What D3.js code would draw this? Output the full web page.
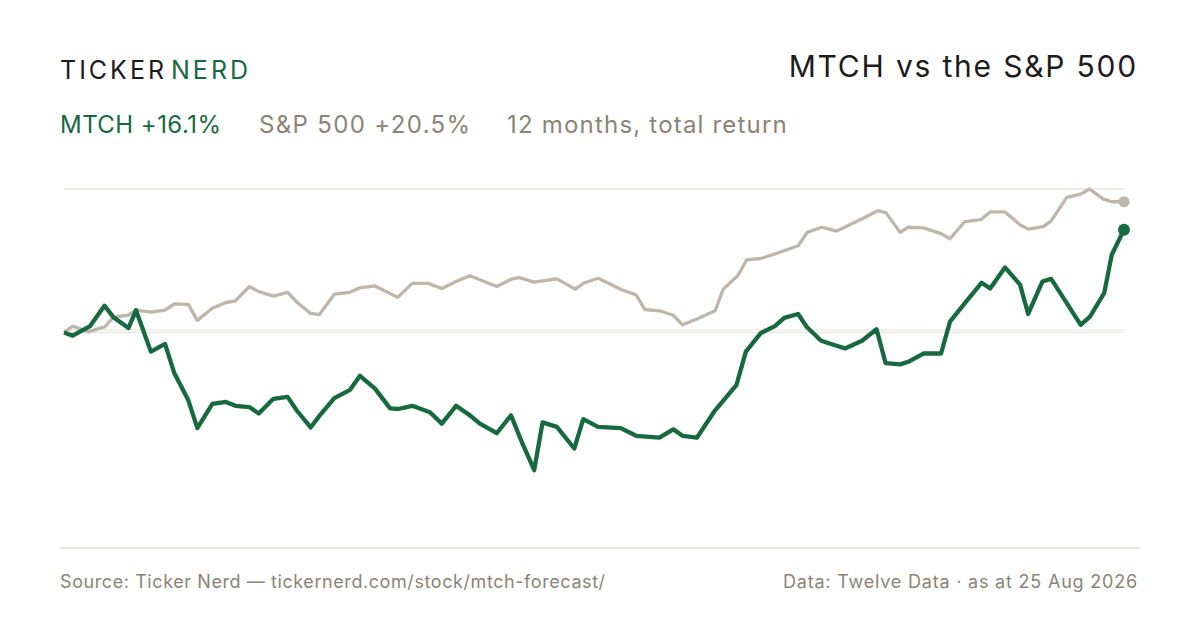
<!DOCTYPE html>
<html>
<head>
<meta charset="utf-8">
<script src="https://cdn.jsdelivr.net/npm/d3@7"></script>
<style>
  body { margin: 0; background: #fff; }
  svg text { font-family: Inter, "Noto Sans", sans-serif; }
</style>
</head>
<body>
<div id="chart"></div>
<script>
// 12 months of total return, % change from 25 Aug 2025
var startDate = new Date(2025, 7, 25)

// day offsets and returns
var mtchDays = [0, 3, 9, 13.9, 17, 22.2, 24.8, 29.9, 34.8, 38, 42.8, 45.9, 51.1, 55.7, 59.1, 63.8, 67.1, 72.1, 77, 80.1, 84.9, 88.1, 93.1, 98.5, 101.9, 107.1, 112.3, 115.1, 119.9, 126, 130.1, 135, 139.8, 143.2, 149, 153.9, 157.6, 161.9, 164.8, 169.7, 175.7, 178.8, 183.9, 191.7, 197, 205, 209.8, 213, 217.9, 224.2, 231.6, 234.8, 239.9, 244.8, 248, 252.8, 255.7, 260.7, 265.5, 268.9, 274.8, 279.8, 282.9, 287.9, 290.7, 295.9, 302, 305.1, 310.2, 316, 318.9, 324, 329.2, 332, 336.9, 339.9, 345.3, 350.1, 353.3, 358.2, 360.8, 365]
var mtchValues = [0, -0.5, 1.0, 4.2, 2.4, 0.7, 3.5, -3.0, -1.8, -6.4, -10.6, -15.0, -11.2, -10.9, -11.5, -11.7, -12.7, -10.4, -10.1, -12.2, -14.9, -13.0, -10.3, -9.0, -6.8, -8.8, -11.9, -12.0, -11.5, -12.5, -14.3, -11.5, -13.0, -14.3, -15.8, -13.0, -17.1, -21.6, -14.1, -14.8, -18.2, -13.6, -14.8, -15.0, -16.2, -16.5, -15.2, -16.2, -16.5, -12.2, -8.2, -3.0, -0.1, 1.0, 2.3, 2.9, 0.9, -1.3, -2.0, -2.5, -1.3, 0.5, -4.8, -5.0, -4.6, -3.3, -3.3, 1.7, 4.6, 7.8, 6.9, 10.2, 7.5, 2.9, 8.0, 8.4, 4.6, 1.2, 2.5, 6.2, 12.2, 16.1]

var spxDays = [0, 3, 8.4, 14.1, 17, 22.1, 24.8, 29.9, 34.8, 38, 42.8, 45.9, 51.1, 55.7, 58.9, 63.8, 67.1, 72.1, 77, 80.3, 84.9, 87.9, 93.1, 98.5, 101.9, 107.1, 114.9, 119.9, 125.4, 130.1, 135, 139.8, 149, 154.2, 156.8, 161.9, 169.7, 176, 179.2, 184, 192, 197, 200.1, 205, 209.8, 213, 217.9, 224.2, 227, 232, 235.1, 239.9, 244.8, 252.8, 255.9, 260.9, 266.1, 275.2, 280.2, 283, 287.9, 290.7, 295.9, 302, 305.1, 310.2, 315.8, 318.9, 324, 329.2, 332, 337.2, 339.9, 345.3, 350.1, 353.1, 357.9, 360.8, 365]
var spxValues = [0, 1.0, 0.1, 0.9, 2.4, 2.7, 3.5, 3.2, 3.5, 4.5, 4.4, 1.9, 3.8, 4.7, 4.9, 7.2, 6.4, 5.7, 6.3, 4.7, 3.0, 2.8, 6.0, 6.3, 7.0, 7.3, 5.5, 7.7, 7.7, 6.9, 8.0, 8.9, 7.2, 8.4, 8.6, 7.9, 8.4, 6.8, 7.8, 8.5, 6.7, 5.9, 3.6, 3.4, 2.7, 1.2, 2.1, 3.4, 6.8, 8.9, 11.4, 11.6, 12.3, 13.6, 15.7, 16.5, 15.9, 17.9, 19.1, 18.8, 15.7, 16.5, 16.4, 15.5, 14.7, 17.4, 17.7, 18.9, 18.9, 16.9, 16.2, 16.6, 17.5, 21.2, 21.7, 22.5, 20.9, 20.5, 20.5]

var gridValues = [22.5, 0.4, 0]
var yDomain = [-33.8, 22.5]

var green = '#17693f'
var grey = '#bdb6ab'
var textGrey = '#8a8477'

var width = 1200
var height = 630

var svg = d3.select('#chart')
.append('svg')
.attr('width', width)
.attr('height', height)

var toSeries = function (days, values) {
    return days.map(function (d, i) {
        return { date: d3.timeHour.offset(startDate, Math.round(d * 24)), value: values[i] }
    })
}
var mtch = toSeries(mtchDays, mtchValues)
var spx = toSeries(spxDays, spxValues)

var x = d3.scaleTime()
.domain([startDate, d3.timeDay.offset(startDate, 365)])
.range([64, 1124])

var y = d3.scaleLinear()
.domain(yDomain)
.range([548, 189])

// gridlines
svg.selectAll('.grid')
.data(gridValues)
.enter()
.append('line')
.attr('class', 'grid')
.attr('x1', x.range()[0])
.attr('x2', x.range()[1])
.attr('y1', function (d) { return y(d) })
.attr('y2', function (d) { return y(d) })
.attr('stroke', '#e9e6e0')
.attr('stroke-width', 1.3)

// bottom rule
svg.append('line')
.attr('x1', 60).attr('x2', 1140)
.attr('y1', y.range()[0]).attr('y2', y.range()[0])
.attr('stroke', '#e2ded6')
.attr('stroke-width', 1.5)

var line = d3.line()
.x(function (d) { return x(d.date) })
.y(function (d) { return y(d.value) })

svg.append('path')
.datum(spx)
.attr('d', line)
.attr('fill', 'none')
.attr('stroke', grey)
.attr('stroke-width', 3.3)
.attr('stroke-linejoin', 'round')

svg.append('path')
.datum(mtch)
.attr('d', line)
.attr('fill', 'none')
.attr('stroke', green)
.attr('stroke-width', 4.3)
.attr('stroke-linejoin', 'round')

// end dots
svg.append('circle')
.attr('cx', x(spx[spx.length - 1].date))
.attr('cy', y(spx[spx.length - 1].value))
.attr('r', 5.5)
.attr('fill', grey)

svg.append('circle')
.attr('cx', x(mtch[mtch.length - 1].date))
.attr('cy', y(mtch[mtch.length - 1].value))
.attr('r', 6)
.attr('fill', green)

// logo
var logo = svg.append('text')
.attr('x', 60).attr('y', 79)
.style('font-size', '25px')
.style('letter-spacing', '3px')
logo.append('tspan').attr('fill', '#1c1c1c').text('TICKER')
logo.append('tspan').attr('fill', green).attr('dx', 4).text('NERD')

// title
svg.append('text')
.attr('x', 1138).attr('y', 77)
.attr('text-anchor', 'end')
.attr('fill', '#1c1c1c')
.style('font-size', '30px')
.style('letter-spacing', '1.8px')
.text('MTCH vs the S&P 500')

// subtitle
var mtchLast = mtchValues[mtchValues.length - 1]
var spxLast = spxValues[spxValues.length - 1]
svg.append('text').attr('x', 60).attr('y', 133)
.attr('fill', green).style('font-size', '24px')
.style('letter-spacing', '0.45px')
.text('MTCH +' + mtchLast.toFixed(1) + '%')
svg.append('text').attr('x', 259).attr('y', 133)
.attr('fill', textGrey).style('font-size', '24px')
.style('letter-spacing', '1.35px')
.text('S&P 500 +' + spxLast.toFixed(1) + '%')
svg.append('text').attr('x', 507).attr('y', 133)
.attr('fill', textGrey).style('font-size', '24px')
.style('letter-spacing', '1.2px')
.text('12 months, total return')

// footer
svg.append('text').attr('x', 60).attr('y', 588)
.attr('fill', textGrey).style('font-size', '18px')
.style('letter-spacing', '0.58px')
.text('Source: Ticker Nerd \u2014 tickernerd.com/stock/mtch-forecast/')
svg.append('text').attr('x', 1138).attr('y', 588)
.attr('text-anchor', 'end')
.attr('fill', textGrey).style('font-size', '18px')
.style('letter-spacing', '0.8px')
.text('Data: Twelve Data \u00b7 as at 25 Aug 2026')
</script>
</body>
</html>
